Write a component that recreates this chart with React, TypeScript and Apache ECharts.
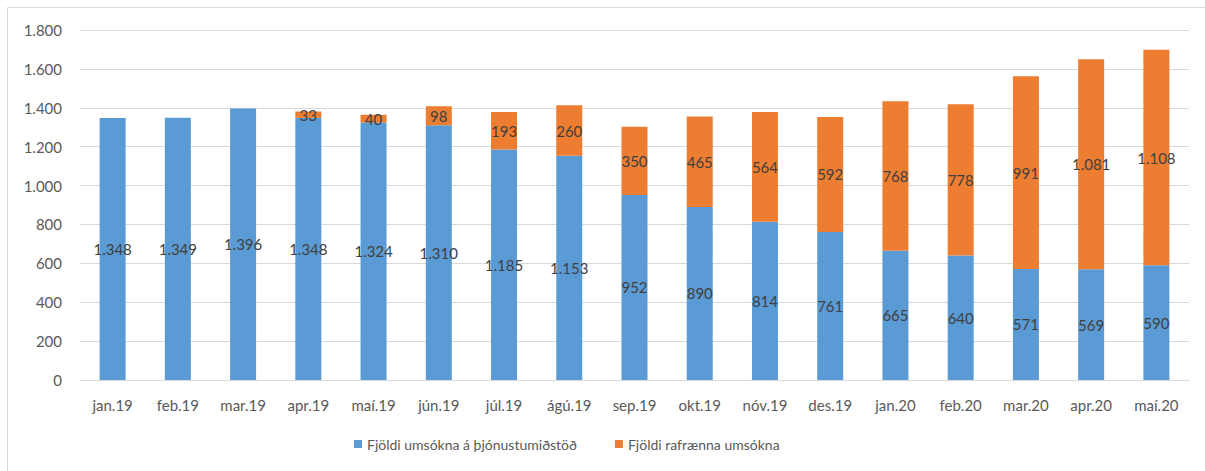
import React, { useEffect, useRef } from "react";
import * as echarts from "echarts";

const categories = ["jan.19","feb.19","mar.19","apr.19","maí.19","jún.19","júl.19","ágú.19","sep.19","okt.19","nóv.19","des.19","jan.20","feb.20","mar.20","apr.20","maí.20"];
const serviceCenter = [1348,1349,1396,1348,1324,1310,1185,1153,952,890,814,761,665,640,571,569,590];
const electronic: (number | null)[] = [null,null,null,33,40,98,193,260,350,465,564,592,768,778,991,1081,1108];
const seriesNames = ["Fjöldi umsókna á þjónustumiðstöð", "Fjöldi rafrænna umsókna"];

const fmt = (v: number) => String(v).replace(/\B(?=(\d{3})+(?!\d))/g, ".");

export default function App() {
  const ref = useRef<HTMLDivElement>(null);
  useEffect(() => {
    const chart = echarts.init(ref.current!, null, { renderer: "svg" });
    const font = "Lato, 'Open Sans', sans-serif";
    const labelStyle = {
      show: true,
      position: "inside" as const,
      color: "#404040",
      fontSize: 15,
      fontFamily: font,
      formatter: (p: any) => (p.value == null ? "" : fmt(p.value)),
    };
    chart.setOption({
      animation: false,
      textStyle: { fontFamily: font },
      graphic: [
        {
          type: "rect",
          shape: { x: 7.5, y: 7.5, width: 1300, height: 600 },
          style: { fill: "none", stroke: "#d9d9d9", lineWidth: 1 },
          silent: true,
        },
      ],
      grid: { left: 80, right: 16, top: 30, bottom: 91, containLabel: false },
      legend: {
        left: 349,
        top: 432,
        itemWidth: 8,
        itemHeight: 8,
        itemGap: 38,
        icon: "rect",
        textStyle: { color: "#595959", fontSize: 14, fontFamily: font },
        data: seriesNames,
      },
      xAxis: {
        type: "category",
        data: categories,
        axisTick: { show: false },
        axisLine: { lineStyle: { color: "#d9d9d9" } },
        axisLabel: { color: "#595959", fontSize: 15, margin: 17, fontFamily: font },
      },
      yAxis: {
        type: "value",
        min: 0,
        max: 1800,
        interval: 200,
        axisLine: { show: false },
        axisTick: { show: false },
        splitLine: { lineStyle: { color: "#d9d9d9" } },
        axisLabel: { color: "#595959", fontSize: 15, margin: 18, fontFamily: font, formatter: (v: number) => fmt(v) },
      },
      series: [
        {
          name: seriesNames[0],
          type: "bar",
          stack: "total",
          barWidth: 26,
          data: serviceCenter,
          itemStyle: { color: "#5b9bd5" },
          label: labelStyle,
        },
        {
          name: seriesNames[1],
          type: "bar",
          stack: "total",
          barWidth: 26,
          data: electronic,
          itemStyle: { color: "#ed7d31" },
          label: labelStyle,
        },
      ],
    });
    return () => chart.dispose();
  }, []);
  return <div ref={ref} style={{ position: "absolute", left: 0, top: 0, width: 1205, height: 471 }} />;
}
